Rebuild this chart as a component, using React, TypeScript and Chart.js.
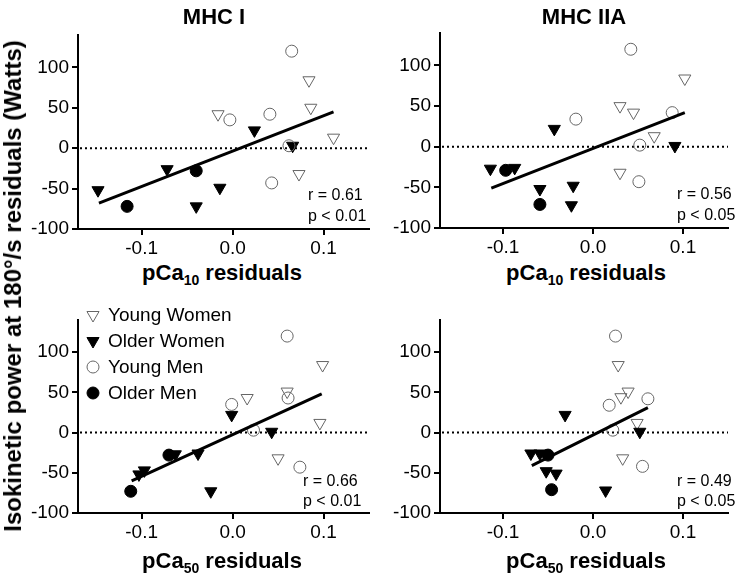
import React, { useEffect, useRef } from 'react';
import { Chart, registerables } from 'chart.js';

Chart.register(...registerables);

const FONT = "'Liberation Sans', Arial, Helvetica, sans-serif";
Chart.defaults.font.family = FONT;
Chart.defaults.color = '#000';

// ---------- data ----------
const seriesNames = ['Young Women', 'Older Women', 'Young Men', 'Older Men'];
const xTicks = [-0.1, 0, 0.1];
const yTicks = [-100, -50, 0, 50, 100];
const xMin = -0.17;
const xMax = 0.15;
const yMin = -100;
const yMax = 140;

const columnTitles = ['MHC I', 'MHC IIA'];
const rowAxisSub = ['10', '50'];

// MHC I vs pCa10 residuals
const tlYoungWomen = [[0.084, 84], [-0.016, 42], [0.086, 50], [0.111, 13], [0.073, -32]];
const tlOlderWomen = [[-0.148, -52], [-0.072, -26], [0.024, 22], [0.066, 3], [-0.014, -49], [-0.040, -72]];
const tlYoungMen = [[0.065, 120], [-0.003, 35], [0.041, 42], [0.062, 3], [0.043, -43]];
const tlOlderMen = [[-0.116, -72], [-0.040, -28]];
const tlFit = [[-0.147, -68], [0.111, 45]];
const tlStats = ['r = 0.61', 'p < 0.01'];

// MHC IIA vs pCa10 residuals
const trYoungWomen = [[0.102, 84], [0.030, 50], [0.045, 42], [0.068, 13], [0.030, -32]];
const trOlderWomen = [[-0.114, -27], [-0.087, -26], [-0.043, 22], [-0.059, -52], [-0.022, -48], [-0.024, -72], [0.091, 1]];
const trYoungMen = [[0.042, 120], [-0.019, 34], [0.088, 42], [0.052, 2], [0.051, -43]];
const trOlderMen = [[-0.097, -29], [-0.059, -71]];
const trFit = [[-0.113, -51], [0.102, 42]];
const trStats = ['r = 0.56', 'p < 0.05'];

// MHC I vs pCa50 residuals
const blYoungWomen = [[0.099, 84], [0.016, 43], [0.060, 51], [0.096, 12], [0.050, -32]];
const blOlderWomen = [[-0.001, 22], [0.043, 1], [-0.038, -26], [-0.024, -73], [-0.103, -52], [-0.097, -47], [-0.063, -27]];
const blYoungMen = [[0.060, 120], [-0.001, 35], [0.061, 43], [0.023, 3], [0.074, -43]];
const blOlderMen = [[-0.112, -73], [-0.070, -28]];
const blFit = [[-0.111, -60], [0.098, 48]];
const blStats = ['r = 0.66', 'p < 0.01'];

// MHC IIA vs pCa50 residuals
const brYoungWomen = [[0.028, 84], [0.039, 51], [0.031, 44], [0.049, 12], [0.033, -32]];
const brOlderWomen = [[-0.031, 22], [0.052, 1], [-0.069, -26], [-0.059, -26], [-0.052, -48], [-0.041, -51], [0.014, -72]];
const brYoungMen = [[0.025, 120], [0.018, 34], [0.061, 42], [0.022, 3], [0.055, -42]];
const brOlderMen = [[-0.050, -28], [-0.046, -71]];
const brFit = [[-0.068, -41], [0.061, 31]];
const brStats = ['r = 0.49', 'p < 0.05'];

// ---------- styles ----------
const GRAY = '#666';
const markerStyles = [
  { shape: 'triangle', fill: 'rgba(255,255,255,0)', stroke: GRAY, radius: 7, order: 4 },
  { shape: 'triangle', fill: '#000', stroke: '#000', radius: 7, order: 3 },
  { shape: 'circle', fill: 'rgba(255,255,255,0)', stroke: GRAY, radius: 6, order: 2 },
  { shape: 'circle', fill: '#000', stroke: '#000', radius: 6, order: 1 },
];

const toXY = (arr: number[][]) => arr.map(([x, y]) => ({ x, y }));

const zeroLinePlugin = {
  id: 'zeroLine',
  beforeDatasetsDraw(chart: any) {
    const { ctx, chartArea, scales } = chart;
    const y = scales.y.getPixelForValue(0);
    ctx.save();
    ctx.strokeStyle = '#000';
    ctx.lineWidth = 2;
    ctx.setLineDash([2, 3]);
    ctx.beginPath();
    ctx.moveTo(chartArea.left + 2, y);
    ctx.lineTo(chartArea.right, y);
    ctx.stroke();
    ctx.restore();
  },
};

const legendPlugin = {
  id: 'innerLegend',
  afterDraw(chart: any, _args: any, opts: any) {
    if (!opts || !opts.show) return;
    const { ctx, chartArea } = chart;
    ctx.save();
    ctx.font = `19px ${FONT}`;
    ctx.textBaseline = 'middle';
    ctx.fillStyle = '#000';
    seriesNames.forEach((name, i) => {
      const st = markerStyles[i];
      const x = chartArea.left + 15;
      const y = chartArea.top - 5 + i * 26;
      ctx.beginPath();
      if (st.shape === 'circle') {
        ctx.arc(x, y, st.radius, 0, Math.PI * 2);
      } else {
        const r = st.radius;
        ctx.moveTo(x, y + r);
        ctx.lineTo(x - r * Math.sin(Math.PI / 3), y - r / 2);
        ctx.lineTo(x + r * Math.sin(Math.PI / 3), y - r / 2);
        ctx.closePath();
      }
      ctx.fillStyle = st.fill;
      ctx.fill();
      ctx.lineWidth = 1;
      ctx.strokeStyle = st.stroke;
      ctx.stroke();
      ctx.fillStyle = '#000';
      ctx.fillText(name, x + 15, y + 1);
    });
    ctx.restore();
  },
};

type Geom = { left: number; top: number; width: number; height: number; yW: number; xH: number; padTop: number; padRight: number };

function Panel({ series, fit, geom, legend }: { series: number[][][]; fit: number[][]; geom: Geom; legend?: boolean }) {
  const ref = useRef<HTMLCanvasElement | null>(null);
  useEffect(() => {
    if (!ref.current) return;
    const datasets: any[] = series.map((pts, i) => {
      const st = markerStyles[i];
      return {
        label: seriesNames[i],
        data: toXY(pts),
        pointStyle: st.shape,
        pointRotation: st.shape === 'triangle' ? 180 : 0,
        pointRadius: st.radius,
        pointBackgroundColor: st.fill,
        pointBorderColor: st.stroke,
        pointBorderWidth: 1,
        showLine: false,
        order: st.order,
      };
    });
    datasets.push({
      label: 'fit',
      data: toXY(fit),
      showLine: true,
      borderColor: '#000',
      borderWidth: 3,
      pointRadius: 0,
      order: 0,
    });
    const grid = { drawOnChartArea: false, drawTicks: true, tickLength: 6, color: '#000', lineWidth: 2 };
    const border = { display: true, color: '#000', width: 2 };
    const chart = new Chart(ref.current, {
      type: 'scatter',
      data: { datasets },
      plugins: [zeroLinePlugin, legendPlugin],
      options: {
        animation: false,
        responsive: false,
        devicePixelRatio: 1,
        layout: { padding: { top: geom.padTop, right: geom.padRight, left: 0, bottom: 0 } },
        plugins: {
          legend: { display: false },
          tooltip: { enabled: false },
          innerLegend: { show: !!legend },
        } as any,
        scales: {
          x: {
            type: 'linear',
            min: xMin,
            max: xMax,
            afterBuildTicks: (s: any) => { s.ticks = xTicks.map((v) => ({ value: v })); },
            afterFit: (s: any) => { s.height = geom.xH; },
            grid,
            border,
            ticks: {
              autoSkip: false,
              maxRotation: 0,
              padding: 2,
              color: '#000',
              font: { size: 19 },
              callback: (v: any) => Number(v).toFixed(1),
            },
          },
          y: {
            type: 'linear',
            min: yMin,
            max: yMax,
            afterBuildTicks: (s: any) => { s.ticks = yTicks.map((v) => ({ value: v })); },
            afterFit: (s: any) => { s.width = geom.yW; },
            grid,
            border,
            ticks: {
              autoSkip: false,
              padding: 3,
              color: '#000',
              font: { size: 19 },
              callback: (v: any) => String(v),
            },
          },
        },
      } as any,
    });
    return () => chart.destroy();
  }, []);
  return (
    <canvas
      ref={ref}
      width={geom.width}
      height={geom.height}
      style={{ position: 'absolute', left: geom.left, top: geom.top, width: geom.width, height: geom.height }}
    />
  );
}

const geoms: Geom[] = [
  { left: 0, top: 10, width: 380, height: 250, yW: 78, xH: 31, padTop: 25, padRight: 11 },
  { left: 380, top: 8, width: 356, height: 252, yW: 60, xH: 32, padTop: 25, padRight: 4 },
  { left: 0, top: 295, width: 380, height: 255, yW: 78, xH: 37, padTop: 25, padRight: 11 },
  { left: 380, top: 295, width: 356, height: 255, yW: 60, xH: 37, padTop: 25, padRight: 4 },
];

const textBase: React.CSSProperties = {
  position: 'absolute',
  whiteSpace: 'nowrap',
  transform: 'translate(-50%, -50%)',
  lineHeight: 1,
  color: '#000',
};

function AxisTitle({ cx, cy, sub }: { cx: number; cy: number; sub: string }) {
  return (
    <div style={{ ...textBase, left: cx, top: cy, fontWeight: 'bold', fontSize: 22 }}>
      pCa<span style={{ fontSize: 14, position: 'relative', top: 5 }}>{sub}</span> residuals
    </div>
  );
}

function Stats({ x, y1, y2, lines }: { x: number; y1: number; y2: number; lines: string[] }) {
  const s: React.CSSProperties = { position: 'absolute', whiteSpace: 'nowrap', fontSize: 16, lineHeight: 1, transform: 'translateY(-50%)' };
  return (
    <>
      <div style={{ ...s, left: x, top: y1 }}>{lines[0]}</div>
      <div style={{ ...s, left: x, top: y2 }}>{lines[1]}</div>
    </>
  );
}

export default function App() {
  return (
    <div
      style={{
        position: 'absolute',
        left: 0,
        top: 0,
        width: 736,
        height: 582,
        overflow: 'hidden',
        background: '#fff',
        fontFamily: FONT,
      }}
    >
      <Panel series={[tlYoungWomen, tlOlderWomen, tlYoungMen, tlOlderMen]} fit={tlFit} geom={geoms[0]} />
      <Panel series={[trYoungWomen, trOlderWomen, trYoungMen, trOlderMen]} fit={trFit} geom={geoms[1]} />
      <Panel series={[blYoungWomen, blOlderWomen, blYoungMen, blOlderMen]} fit={blFit} geom={geoms[2]} legend />
      <Panel series={[brYoungWomen, brOlderWomen, brYoungMen, brOlderMen]} fit={brFit} geom={geoms[3]} />

      <div style={{ ...textBase, left: 214, top: 17, fontWeight: 'bold', fontSize: 22 }}>{columnTitles[0]}</div>
      <div style={{ ...textBase, left: 584, top: 17, fontWeight: 'bold', fontSize: 22 }}>{columnTitles[1]}</div>

      <AxisTitle cx={222} cy={273} sub={rowAxisSub[0]} />
      <AxisTitle cx={586} cy={273} sub={rowAxisSub[0]} />
      <AxisTitle cx={222} cy={561} sub={rowAxisSub[1]} />
      <AxisTitle cx={586} cy={561} sub={rowAxisSub[1]} />

      <Stats x={308} y1={195} y2={216} lines={tlStats} />
      <Stats x={677} y1={194} y2={215} lines={trStats} />
      <Stats x={303} y1={481} y2={501} lines={blStats} />
      <Stats x={677} y1={481} y2={501} lines={brStats} />

      <div
        style={{
          ...textBase,
          left: 13,
          top: 286,
          fontWeight: 'bold',
          fontSize: 24,
          transform: 'translate(-50%, -50%) rotate(-90deg)',
        }}
      >
        Isokinetic power at 180°/s residuals (Watts)
      </div>
    </div>
  );
}
